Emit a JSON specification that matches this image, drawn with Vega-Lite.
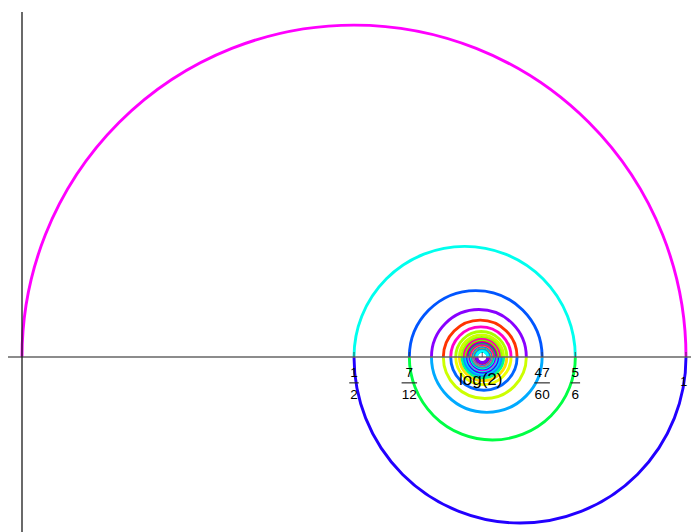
{
  "$schema": "https://vega.github.io/schema/vega-lite/v6.json",
  "width": 691,
  "height": 532,
  "autosize": "none",
  "padding": 0,
  "background": "white",
  "config": {"view": {"stroke": null}},
  "datasets": {
    "arcs": [
      {"n":1,"c":0.5,"r":0.5,"s":"u"},
      {"n":2,"c":0.75,"r":0.25,"s":"l"},
      {"n":3,"c":0.666667,"r":0.166667,"s":"u"},
      {"n":4,"c":0.708333,"r":0.125,"s":"l"},
      {"n":5,"c":0.683333,"r":0.1,"s":"u"},
      {"n":6,"c":0.7,"r":0.083333,"s":"l"},
      {"n":7,"c":0.688095,"r":0.071429,"s":"u"},
      {"n":8,"c":0.697024,"r":0.0625,"s":"l"},
      {"n":9,"c":0.690079,"r":0.055556,"s":"u"},
      {"n":10,"c":0.695635,"r":0.05,"s":"l"},
      {"n":11,"c":0.691089,"r":0.045455,"s":"u"},
      {"n":12,"c":0.694877,"r":0.041667,"s":"l"},
      {"n":13,"c":0.691672,"r":0.038462,"s":"u"},
      {"n":14,"c":0.694419,"r":0.035714,"s":"l"},
      {"n":15,"c":0.692038,"r":0.033333,"s":"u"},
      {"n":16,"c":0.694122,"r":0.03125,"s":"l"},
      {"n":17,"c":0.692284,"r":0.029412,"s":"u"},
      {"n":18,"c":0.693918,"r":0.027778,"s":"l"},
      {"n":19,"c":0.692456,"r":0.026316,"s":"u"},
      {"n":20,"c":0.693772,"r":0.025,"s":"l"},
      {"n":21,"c":0.692581,"r":0.02381,"s":"u"},
      {"n":22,"c":0.693663,"r":0.022727,"s":"l"},
      {"n":23,"c":0.692675,"r":0.021739,"s":"u"},
      {"n":24,"c":0.69358,"r":0.020833,"s":"l"},
      {"n":25,"c":0.692747,"r":0.02,"s":"u"},
      {"n":26,"c":0.693516,"r":0.019231,"s":"l"},
      {"n":27,"c":0.692803,"r":0.018519,"s":"u"},
      {"n":28,"c":0.693465,"r":0.017857,"s":"l"},
      {"n":29,"c":0.692849,"r":0.017241,"s":"u"},
      {"n":30,"c":0.693424,"r":0.016667,"s":"l"},
      {"n":31,"c":0.692887,"r":0.016129,"s":"u"},
      {"n":32,"c":0.693391,"r":0.015625,"s":"l"},
      {"n":33,"c":0.692917,"r":0.015152,"s":"u"},
      {"n":34,"c":0.693363,"r":0.014706,"s":"l"},
      {"n":35,"c":0.692943,"r":0.014286,"s":"u"},
      {"n":36,"c":0.693339,"r":0.013889,"s":"l"},
      {"n":37,"c":0.692964,"r":0.013514,"s":"u"},
      {"n":38,"c":0.693319,"r":0.013158,"s":"l"},
      {"n":39,"c":0.692982,"r":0.012821,"s":"u"},
      {"n":40,"c":0.693302,"r":0.0125,"s":"l"},
      {"n":41,"c":0.692998,"r":0.012195,"s":"u"},
      {"n":42,"c":0.693289,"r":0.011905,"s":"l"},
      {"n":43,"c":0.693012,"r":0.011628,"s":"u"},
      {"n":44,"c":0.693276,"r":0.011364,"s":"l"},
      {"n":45,"c":0.693024,"r":0.011111,"s":"u"},
      {"n":46,"c":0.693265,"r":0.01087,"s":"l"},
      {"n":47,"c":0.693034,"r":0.010638,"s":"u"},
      {"n":48,"c":0.693256,"r":0.010417,"s":"l"},
      {"n":49,"c":0.693043,"r":0.010204,"s":"u"},
      {"n":50,"c":0.693247,"r":0.01,"s":"l"},
      {"n":51,"c":0.693051,"r":0.009804,"s":"u"},
      {"n":52,"c":0.693239,"r":0.009615,"s":"l"},
      {"n":53,"c":0.693058,"r":0.009434,"s":"u"},
      {"n":54,"c":0.693233,"r":0.009259,"s":"l"},
      {"n":55,"c":0.693064,"r":0.009091,"s":"u"},
      {"n":56,"c":0.693227,"r":0.008929,"s":"l"},
      {"n":57,"c":0.69307,"r":0.008772,"s":"u"},
      {"n":58,"c":0.693221,"r":0.008621,"s":"l"},
      {"n":59,"c":0.693075,"r":0.008475,"s":"u"},
      {"n":60,"c":0.693216,"r":0.008333,"s":"l"}
    ],
    "fracs": [
      {"v":0.5,"num":"1","den":"2","w":"s"},
      {"v":0.583333,"num":"7","den":"12","w":"d"},
      {"v":0.783333,"num":"47","den":"60","w":"d"},
      {"v":0.833333,"num":"5","den":"6","w":"s"}
    ],
    "ticks": [
      {"v":0.5},{"v":0.583333},{"v":0.693147},{"v":0.783333},{"v":0.833333},{"v":1}
    ],
    "plain": [
      {"v":0.693147,"t":"log(2)","k":"log"},
      {"v":0.9965,"t":"1","k":"one"}
    ],
    "one": [{}]
  },
  "layer": [
    {
      "data": {"name": "arcs"},
      "transform": [{"filter": "datum.s == 'u'"}],
      "mark": {"type": "arc", "filled": false, "strokeWidth": 2.9, "theta": -1.5707963, "theta2": 1.5707963},
      "encoding": {
        "x": {"field": "c", "type": "quantitative", "stack": null, "scale": {"domain": [-0.033133, 1.00753], "nice": false, "zero": false}, "axis": null},
        "y": {"datum": 0, "type": "quantitative", "scale": {"domain": [-0.263554, 0.537651], "nice": false, "zero": false}, "axis": null},
        "radius": {"field": "r", "type": "quantitative", "stack": null, "scale": {"type": "linear", "domain": [0, 1], "range": [0, 664], "zero": true}},
        "radius2": {"field": "r"},
        "color": {"field": "n", "type": "ordinal", "legend": null, "scale": {"range": ["#ff00ff","#2200ff","#00ffee","#00ff44","#0055ff","#00aaff","#8800ff","#ccff00","#ff3300","#0066ff","#ff00cc","#eeff00","#aaff00","#ffdd00","#ccff00","#00ff88","#99ff00","#0099ff","#ff00aa","#00ccff","#66ff00","#3300ff","#ff0066","#00ffcc","#5500ff","#ff00ee","#00ff00","#0033ff","#aa00ff","#00eeff","#ff4400","#00ff66","#dd00ff","#0077ff","#ffaa00","#00ffaa","#4400ff","#ff0088","#00ddff","#88ff00","#0088ff","#ff00ff","#00ff33","#6600ff","#ffee00","#00bbff","#ff0044","#22ff00","#0044ff","#cc00ff","#00ffdd","#ff6600","#0022ff","#ff00bb","#00ff99","#1100ff","#00aaff","#ff0022","#00ffff","#7700ff"]}}
      }
    },
    {
      "data": {"name": "arcs"},
      "transform": [{"filter": "datum.s == 'l'"}],
      "mark": {"type": "arc", "filled": false, "strokeWidth": 2.9, "theta": 1.5707963, "theta2": 4.712389},
      "encoding": {
        "x": {"field": "c", "type": "quantitative", "stack": null},
        "y": {"datum": 0, "type": "quantitative"},
        "radius": {"field": "r", "type": "quantitative", "stack": null},
        "radius2": {"field": "r"},
        "color": {"field": "n", "type": "ordinal", "legend": null}
      }
    },
    {
      "data": {"name": "one"},
      "mark": {"type": "rule", "color": "#666666", "strokeWidth": 1.3},
      "encoding": {
        "x": {"datum": -0.0211, "type": "quantitative"},
        "x2": {"datum": 1.0075},
        "y": {"datum": 0, "type": "quantitative"}
      }
    },
    {
      "data": {"name": "one"},
      "mark": {"type": "rule", "color": "#1a1a1a", "strokeWidth": 1.3},
      "encoding": {
        "x": {"datum": 0, "type": "quantitative"},
        "y": {"datum": 0.5196, "type": "quantitative"},
        "y2": {"datum": -0.263554}
      }
    },
    {
      "data": {"name": "ticks"},
      "mark": {"type": "tick", "orient": "vertical", "size": 5, "thickness": 1.1, "color": "#333333", "yOffset": -2.5},
      "encoding": {
        "x": {"field": "v", "type": "quantitative"},
        "y": {"datum": 0, "type": "quantitative"}
      }
    },
    {
      "data": {"name": "fracs"},
      "mark": {"type": "text", "font": "Liberation Sans", "fontSize": 13.5, "baseline": "alphabetic", "align": "center", "dy": 19.7, "color": "#000000"},
      "encoding": {
        "x": {"field": "v", "type": "quantitative"},
        "y": {"datum": 0, "type": "quantitative"},
        "text": {"field": "num"}
      }
    },
    {
      "data": {"name": "fracs"},
      "mark": {"type": "text", "font": "Liberation Sans", "fontSize": 13.5, "baseline": "alphabetic", "align": "center", "dy": 41.5, "color": "#000000"},
      "encoding": {
        "x": {"field": "v", "type": "quantitative"},
        "y": {"datum": 0, "type": "quantitative"},
        "text": {"field": "den"}
      }
    },
    {
      "data": {"name": "fracs"},
      "transform": [{"filter": "datum.w == 's'"}],
      "mark": {"type": "tick", "orient": "horizontal", "size": 9.5, "thickness": 1.6, "color": "#222222", "yOffset": 25.8},
      "encoding": {
        "x": {"field": "v", "type": "quantitative"},
        "y": {"datum": 0, "type": "quantitative"}
      }
    },
    {
      "data": {"name": "fracs"},
      "transform": [{"filter": "datum.w == 'd'"}],
      "mark": {"type": "tick", "orient": "horizontal", "size": 15.5, "thickness": 1.6, "color": "#222222", "yOffset": 25.8},
      "encoding": {
        "x": {"field": "v", "type": "quantitative"},
        "y": {"datum": 0, "type": "quantitative"}
      }
    },
    {
      "data": {"name": "plain"},
      "transform": [{"filter": "datum.k == 'log'"}],
      "mark": {"type": "text", "font": "Liberation Sans", "fontSize": 17, "baseline": "alphabetic", "align": "center", "dy": 28, "dx": -1.5, "color": "#000000"},
      "encoding": {
        "x": {"field": "v", "type": "quantitative"},
        "y": {"datum": 0, "type": "quantitative"},
        "text": {"field": "t"}
      }
    },
    {
      "data": {"name": "plain"},
      "transform": [{"filter": "datum.k == 'one'"}],
      "mark": {"type": "text", "font": "Liberation Sans", "fontSize": 12.5, "baseline": "alphabetic", "align": "center", "dy": 28.5, "color": "#000000"},
      "encoding": {
        "x": {"field": "v", "type": "quantitative"},
        "y": {"datum": 0, "type": "quantitative"},
        "text": {"field": "t"}
      }
    }
  ]
}
